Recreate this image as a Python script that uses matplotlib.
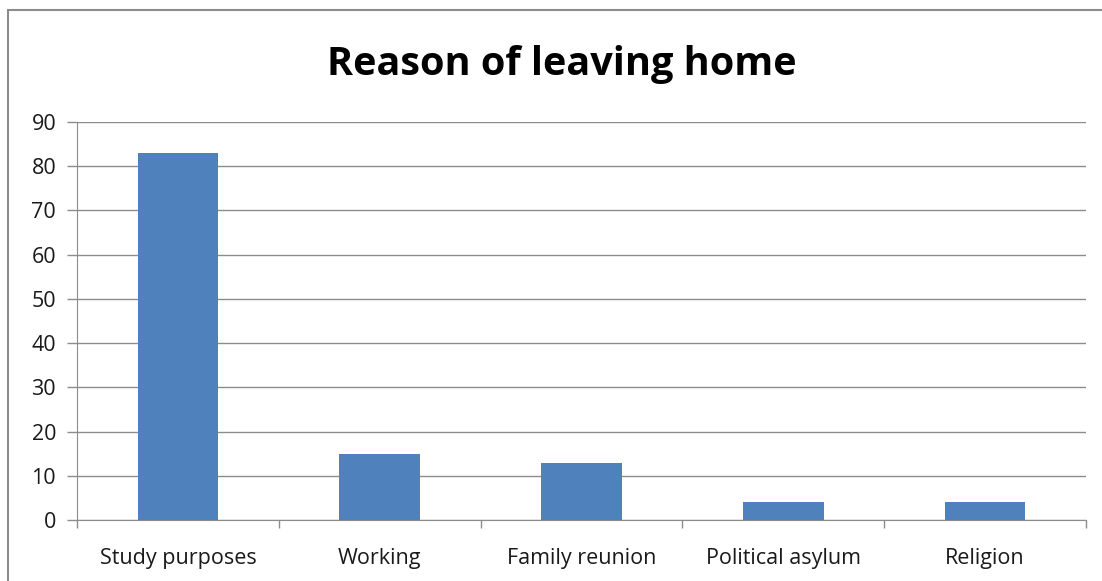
import numpy as np
import matplotlib.pyplot as plt
from matplotlib.patches import Rectangle

categories = ["Study purposes", "Working", "Family reunion", "Political asylum", "Religion"]
values = [83, 15, 13, 4, 4]
y_ticks = [0, 10, 20, 30, 40, 50, 60, 70, 80, 90]

plt.rcParams['font.family'] = ['Open Sans', 'DejaVu Sans']

fig = plt.figure(figsize=(11.02, 5.81), dpi=100)
ax = fig.add_axes([77 / 1102, 1 - 520 / 581, 1009 / 1102, 398 / 581])

# outer chart frame (runs off the right and bottom edges)
fig.patches.append(Rectangle((8 / 1102, -0.05), 1.2, 1 - 10 / 581 + 0.05,
                             transform=fig.transFigure, fill=False,
                             edgecolor='#8c8c8c', linewidth=1.5))

x = np.arange(len(categories))
ax.bar(x, values, width=0.4, color='#4F81BD', zorder=3)

ax.set_xlim(-0.5, len(categories) - 0.5)
ax.set_ylim(0, 90)
ax.set_yticks(y_ticks)
ax.set_xticks(x)
ax.set_xticklabels(categories, fontsize=15.5, color='#1a1a1a')
ax.tick_params(axis='x', length=0, pad=20)
ax.set_xticks(np.arange(len(categories) + 1) - 0.5, minor=True)
ax.tick_params(axis='x', which='minor', length=6, color='#8c8c8c', width=1)
ax.tick_params(axis='y', length=7, color='#8c8c8c', width=1, labelsize=15.5,
               labelcolor='#1a1a1a', pad=8)

ax.grid(axis='y', color='#8c8c8c', linewidth=1, zorder=0)
for side in ['top', 'right']:
    ax.spines[side].set_visible(False)
ax.spines['left'].set_color('#8c8c8c')
ax.spines['bottom'].set_color('#8c8c8c')

fig.text(0.51, 1 - 64 / 581, "Reason of leaving home", ha='center', va='center',
         fontsize=28.5, fontweight='bold', color='black')

fig.savefig("out.png", dpi=100)
